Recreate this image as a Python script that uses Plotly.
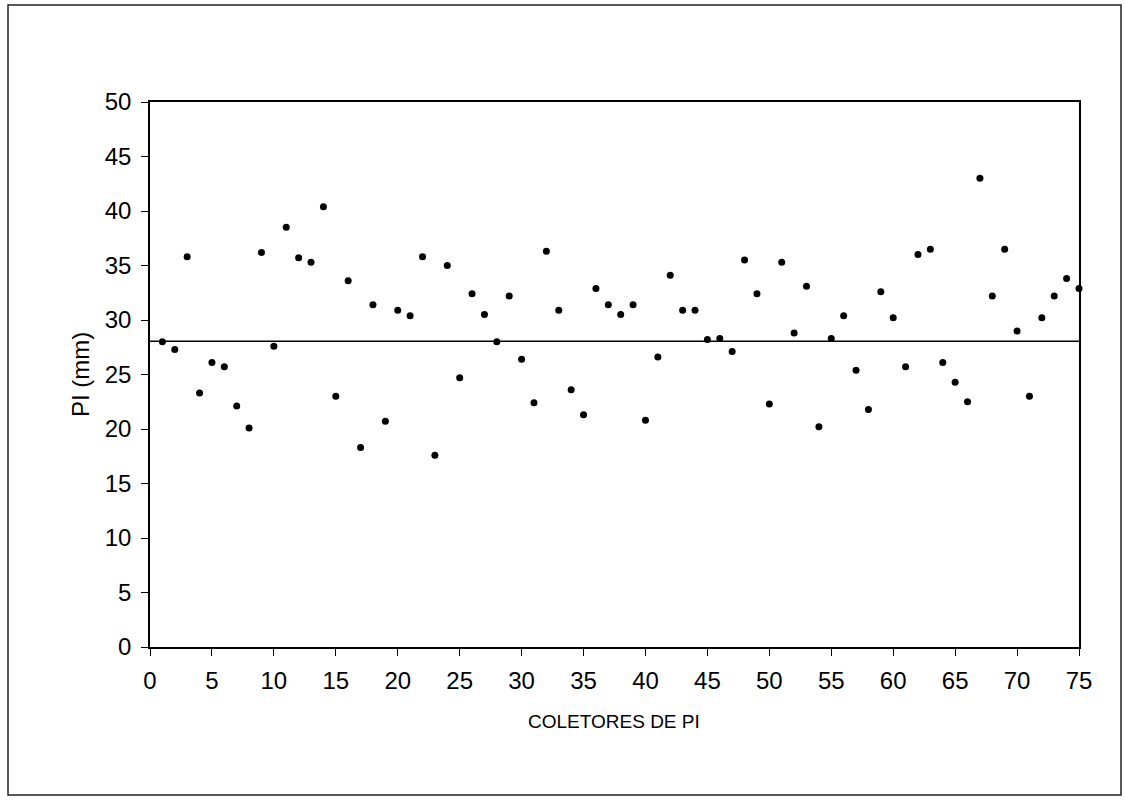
import plotly.graph_objects as go

coletores = list(range(1, 76))
pi_mm = [
    28.0, 27.3, 35.8, 23.3, 26.1, 25.7, 22.1, 20.1, 36.2, 27.6,
    38.5, 35.7, 35.3, 40.4, 23.0, 33.6, 18.3, 31.4, 20.7, 30.9,
    30.4, 35.8, 17.6, 35.0, 24.7, 32.4, 30.5, 28.0, 32.2, 26.4,
    22.4, 36.3, 30.9, 23.6, 21.3, 32.9, 31.4, 30.5, 31.4, 20.8,
    26.6, 34.1, 30.9, 30.9, 28.2, 28.3, 27.1, 35.5, 32.4, 22.3,
    35.3, 28.8, 33.1, 20.2, 28.3, 30.4, 25.4, 21.8, 32.6, 30.2,
    25.7, 36.0, 36.5, 26.1, 24.3, 22.5, 43.0, 32.2, 36.5, 29.0,
    23.0, 30.2, 32.2, 33.8, 32.9,
]
linha_ref = 28.05
x_ticks = list(range(0, 80, 5))
y_ticks = list(range(0, 55, 5))
x_title = "COLETORES DE PI"
y_title = "PI (mm)"

FONT = "Liberation Sans, Arial, sans-serif"

fig = go.Figure()
fig.add_trace(go.Scatter(
    x=coletores, y=pi_mm, mode="markers",
    marker=dict(color="black", size=7),
    showlegend=False, cliponaxis=False,
))

# reference horizontal line
fig.add_shape(type="line", xref="x", yref="y",
              x0=-0.65, x1=75, y0=linha_ref, y1=linha_ref,
              line=dict(color="black", width=1.5))

# layout geometry (pixels)
L, R, T, B = 150, 1079, 102, 647
W, H = R - L, B - T
def px(p):
    return (p - L) / W
def py(p):
    return (B - p) / H

# outer border of chart area
fig.add_shape(type="rect", xref="paper", yref="paper",
              x0=px(8), x1=px(1121), y0=py(795), y1=py(5),
              line=dict(color="#222222", width=1.5), layer="below")

# axis titles
fig.add_annotation(text=x_title, xref="paper", yref="paper",
                   x=px(614), y=py(721), xanchor="center", yanchor="middle",
                   showarrow=False, font=dict(size=19, family=FONT, color="black"))
fig.add_annotation(text=y_title, xref="paper", yref="paper",
                   x=px(80), y=py(375), xanchor="center", yanchor="middle",
                   textangle=-90, showarrow=False,
                   font=dict(size=24, family=FONT, color="black"))

fig.update_layout(
    width=1125, height=800,
    margin=dict(l=L, r=1125 - R, t=T, b=800 - B),
    paper_bgcolor="white", plot_bgcolor="white",
    font=dict(family=FONT, color="black"),
    xaxis=dict(
        range=[0, 75], tickvals=x_ticks, ticks="outside", ticklen=7,
        tickwidth=1, tickcolor="black", ticklabelstandoff=4,
        showline=True, linecolor="black", linewidth=1.5, mirror=True,
        showgrid=False, zeroline=False,
        tickfont=dict(size=24, family=FONT),
    ),
    yaxis=dict(
        range=[0, 50], tickvals=y_ticks, ticks="outside", ticklen=7,
        tickwidth=1, tickcolor="black", ticklabelstandoff=5,
        showline=True, linecolor="black", linewidth=1.5, mirror=True,
        showgrid=False, zeroline=False,
        tickfont=dict(size=24, family=FONT),
    ),
)

fig.write_html("out.html")
